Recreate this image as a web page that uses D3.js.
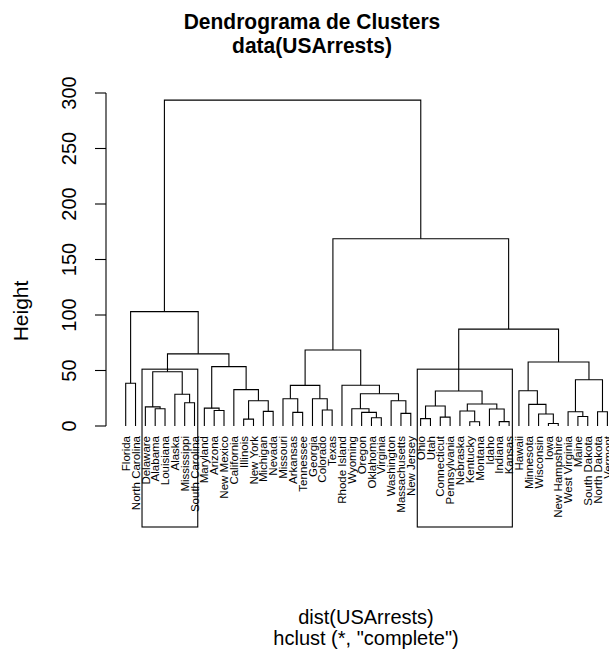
<!DOCTYPE html>
<html><head><meta charset="utf-8">
<script src="https://cdn.jsdelivr.net/npm/d3@7/dist/d3.min.js"></script>
<style>body{margin:0;background:#fff}svg{display:block}text{font-family:"Liberation Sans",Arial,Helvetica,sans-serif;fill:#000}</style>
</head><body>
<script>
// leaf order as drawn
const leaves = ["Florida","North Carolina","Delaware","Alabama","Louisiana","Alaska","Mississippi","South Carolina","Maryland","Arizona","New Mexico","California","Illinois","New York","Michigan","Nevada","Missouri","Arkansas","Tennessee","Georgia","Colorado","Texas","Rhode Island","Wyoming","Oregon","Oklahoma","Virginia","Washington","Massachusetts","New Jersey","Ohio","Utah","Connecticut","Pennsylvania","Nebraska","Kentucky","Montana","Idaho","Indiana","Kansas","Hawaii","Minnesota","Wisconsin","Iowa","New Hampshire","West Virginia","Maine","South Dakota","North Dakota","Vermont"];
// merges: [left, right] — string = leaf, number = earlier merge (1-based)
const mergeLeft  = ["Iowa","Kentucky","Indiana","Illinois","Ohio","Oklahoma","Connecticut","Maine","Wisconsin","Massachusetts","Arkansas","Oregon","West Virginia","North Dakota","Nebraska","Michigan","Arizona","Colorado","Idaho","Alabama","Wyoming","Maryland","Delaware",5,"Minnesota",15,"Mississippi","Washington",4,"Missouri","Georgia","Alaska",21,24,"Hawaii","California",30,"Rhode Island","Florida",13,23,22,35,41,37,34,39,45,47];
const mergeRight = ["New Hampshire","Montana","Kansas","New York","Utah","Virginia","Pennsylvania","South Dakota",1,"New Jersey","Tennessee",6,8,"Vermont",2,"Nevada","New Mexico","Texas",3,"Louisiana",12,17,20,7,9,19,"South Carolina",10,16,11,18,27,28,26,25,29,31,33,"North Carolina",14,32,36,40,42,38,43,44,46,48];
const mergeHeight = [2.3,3.8,3.9,6.2,6.6,7.4,8.0,8.5,10.8,11.4,12.3,12.3,12.9,12.9,13.5,13.2,14.0,14.4,15.3,15.6,15.6,16.1,17.2,18.0,19.5,19.8,21.0,22.8,22.8,24.6,24.6,28.6,29.1,31.5,31.8,32.8,36.6,36.7,38.5,41.7,48.9,53.5,57.7,65.0,68.5,87.3,103.0,168.7,293.6];
const yTicks = [0,50,100,150,200,250,300];
const rectClusters = [["Delaware","South Carolina"],["Ohio","Kansas"]];
const kCut = 9;

const W = 609, H = 654;
const svg = d3.select("body").append("svg").attr("width",W).attr("height",H);
svg.append("rect").attr("width",W).attr("height",H).attr("fill","#fff");

const x = d3.scaleLinear().domain([1,50]).range([125.7,607.4]);
const y = d3.scaleLinear().domain([0,300]).range([426,93]);
const plotBottom = 527;

const pos = new Map(leaves.map((d,i)=>[d,i+1]));
const nodes = [];
function child(c){
  if (typeof c === "string") return {x:x(pos.get(c)), h:0};
  return nodes[c-1];
}
const g = svg.append("g").attr("fill","none").attr("stroke","#000").attr("stroke-width",1.1);
mergeHeight.forEach((h,i)=>{
  const a = child(mergeLeft[i]), b = child(mergeRight[i]);
  const n = {x:(a.x+b.x)/2, h:h};
  nodes.push(n);
  g.append("path").attr("d",
    `M${a.x},${y(a.h)}V${y(h)}H${b.x}V${y(b.h)}`);
});

// leaf labels
const lf = 11.5;
svg.append("g").selectAll("text").data(leaves).join("text")
  .attr("transform",d=>`translate(${x(pos.get(d))+lf*0.36},436) rotate(-90)`)
  .attr("text-anchor","end").attr("font-size",lf).text(d=>d);

// y axis
const ax = 106;
const axg = svg.append("g").attr("stroke","#000").attr("stroke-width",1.1);
axg.append("line").attr("x1",ax).attr("x2",ax).attr("y1",y(0)).attr("y2",y(300));
axg.selectAll("line.t").data(yTicks).join("line").attr("class","t")
  .attr("x1",ax-11).attr("x2",ax).attr("y1",d=>y(d)).attr("y2",d=>y(d));
svg.append("g").selectAll("text").data(yTicks).join("text")
  .attr("transform",d=>`translate(76,${y(d)}) rotate(-90)`)
  .attr("text-anchor","middle").attr("font-size",20).text(d=>d);

// rect.hclust boxes
const sortedH = mergeHeight.slice().sort((a,b)=>b-a);
const cutH = (sortedH[kCut-2]+sortedH[kCut-1])/2;
rectClusters.forEach(([f,l])=>{
  const x0 = x(pos.get(f)-0.34), x1 = x(pos.get(l)+0.33);
  svg.append("rect").attr("x",x0).attr("y",y(cutH)).attr("width",x1-x0).attr("height",plotBottom-y(cutH))
    .attr("fill","none").attr("stroke","#000").attr("stroke-width",1.1);
});

// titles
svg.append("text").attr("transform","translate(312,29) scale(1,1.08)").attr("text-anchor","middle").attr("font-size",21).attr("font-weight","bold").text("Dendrograma de Clusters");
svg.append("text").attr("transform","translate(312,53) scale(1,1.08)").attr("text-anchor","middle").attr("font-size",21).attr("font-weight","bold").text("data(USArrests)");
svg.append("text").attr("transform","translate(28,311) rotate(-90)").attr("text-anchor","middle").attr("font-size",21).text("Height");
svg.append("text").attr("x",366).attr("y",624).attr("text-anchor","middle").attr("font-size",20).text("dist(USArrests)");
svg.append("text").attr("x",366).attr("y",645).attr("text-anchor","middle").attr("font-size",20).text('hclust (*, "complete")');
</script>
</body></html>
